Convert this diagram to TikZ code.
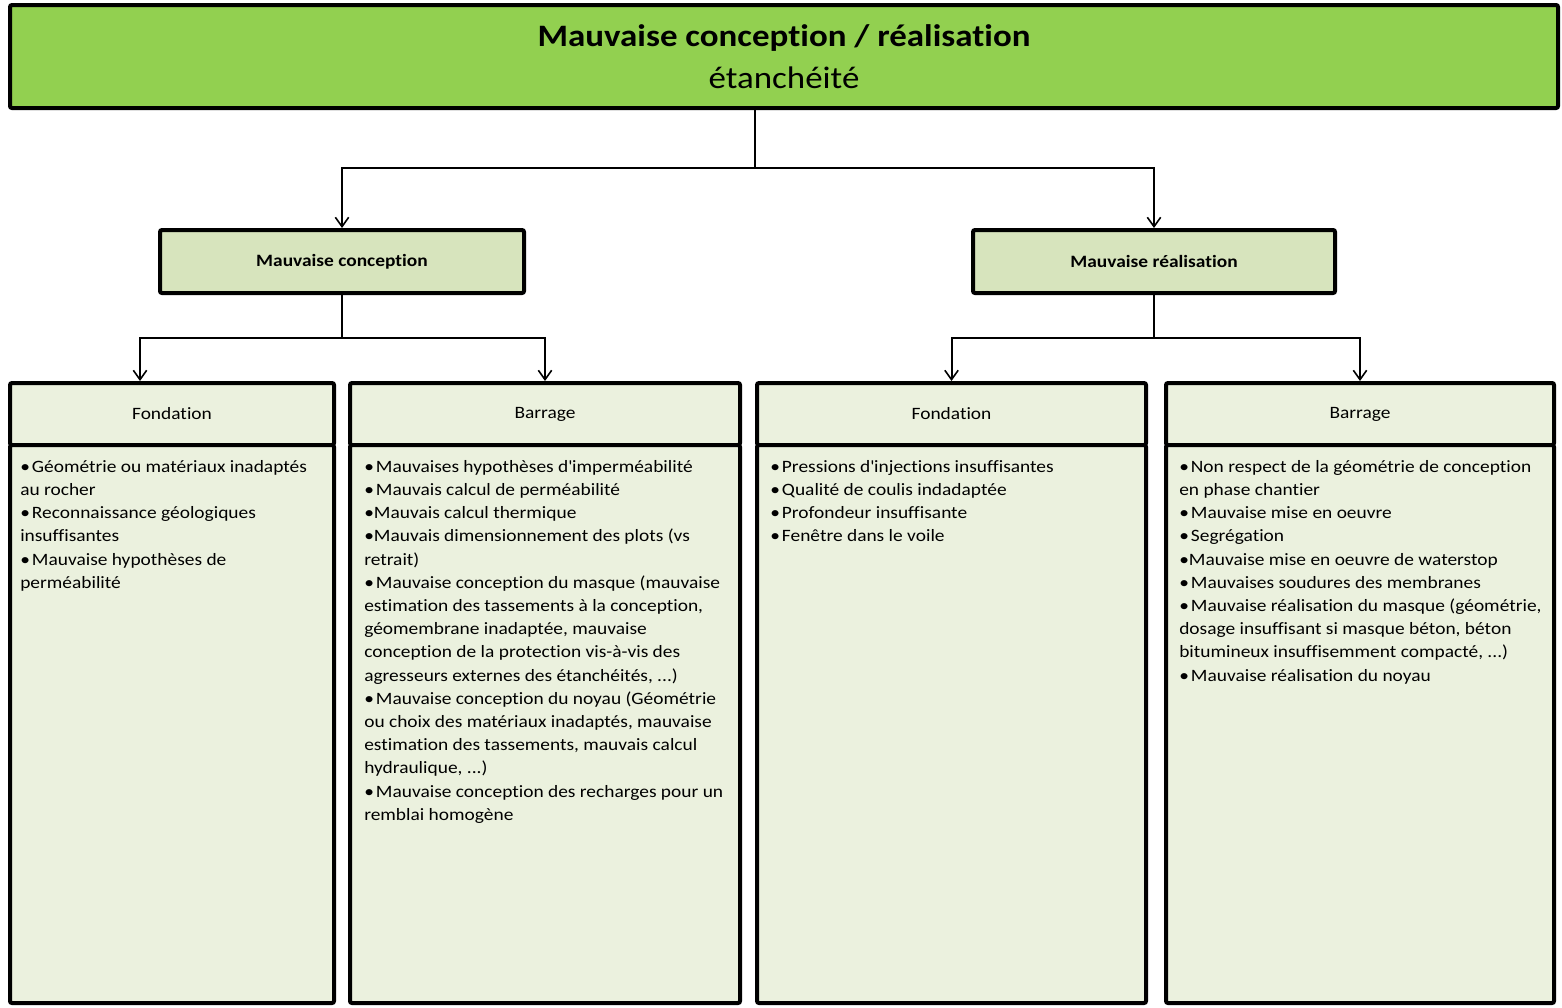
\documentclass[tikz,border=0pt]{standalone}
\usepackage{fontspec}
\setmainfont{Carlito}[FakeStretch=1.12,Ligatures={TeX,NoCommon}]
\usetikzlibrary{arrows.meta}
\definecolor{titregreen}{HTML}{92D050}
\definecolor{midgreen}{HTML}{D7E4BD}
\definecolor{palegreen}{HTML}{EBF1DE}
\newcommand{\puce}{•\kern1.5pt}

\begin{document}
\begin{tikzpicture}[x=0.75pt,y=-0.75pt,
  bigbox/.style={draw=black,line width=3pt,rounded corners=1.5pt,inner sep=0pt},
  titlebox/.style={bigbox,fill=titregreen,minimum width=1161pt,minimum height=77.25pt,
    align=center,font=\fontsize{23.4}{31.5}\selectfont},
  midbox/.style={bigbox,fill=midgreen,minimum height=47.25pt,font=\fontsize{13}{16}\selectfont\bfseries},
  headbox/.style={bigbox,fill=palegreen,minimum height=46.5pt,font=\fontsize{13}{16}\selectfont},
  bodybox/.style={bigbox,fill=palegreen,minimum height=418.5pt},
  itemtext/.style={anchor=north west,inner sep=0pt,align=left,font=\fontsize{13}{17.4}\selectfont},
  link/.style={line width=1.5pt,-{Straight Barb[length=7pt,width=10pt,line width=1.2pt]}}
]
\useasboundingbox (0,0) rectangle (1562,1007);

\path (784,56.5) node[titlebox] (titre) {{\bfseries Mauvaise conception / réalisation}\\étanchéité};

\path (342,261.5) node[midbox,minimum width=273pt] (conc) {Mauvaise conception};
\path (1154,261.5) node[midbox,minimum width=271.5pt] (real) {Mauvaise réalisation};

\path (172,414) node[headbox,minimum width=243pt] (fondA) {Fondation};
\path (545,414) node[headbox,minimum width=292.5pt] (barA) {Barrage};
\path (951.5,414) node[headbox,minimum width=291.75pt] (fondB) {Fondation};
\path (1360,414) node[headbox,minimum width=291pt] (barB) {Barrage};

\path (172,724) node[bodybox,minimum width=243pt] (fondAb) {};
\path (545,724) node[bodybox,minimum width=292.5pt] (barAb) {};
\path (951.5,724) node[bodybox,minimum width=291.75pt] (fondBb) {};
\path (1360,724) node[bodybox,minimum width=291pt] (barBb) {};

\path (20,455.8) node[itemtext] (fondAt) {\strut\puce Géométrie ou matériaux inadaptés\\
au rocher\\
\puce Reconnaissance géologiques\\
insuffisantes\\
\puce Mauvaise hypothèses de\\
perméabilité};

\path (364,455.8) node[itemtext] (barAt) {\strut\puce Mauvaises hypothèses d\textquotesingle imperméabilité\\
\puce Mauvais calcul de perméabilité\\
•Mauvais calcul thermique\\
•Mauvais dimensionnement des plots (vs\\
retrait)\\
\puce Mauvaise conception du masque (mauvaise\\
estimation des tassements à la conception,\\
géomembrane inadaptée, mauvaise\\
conception de la protection vis-à-vis des\\
agresseurs externes des étanchéités, ...)\\
\puce Mauvaise conception du noyau (Géométrie\\
ou choix des matériaux inadaptés, mauvaise\\
estimation des tassements, mauvais calcul\\
hydraulique, ...)\\
\puce Mauvaise conception des recharges pour un\\
remblai homogène};

\path (770,455.8) node[itemtext] (fondBt) {\strut\puce Pressions d\textquotesingle injections insuffisantes\\
\puce Qualité de coulis indadaptée\\
\puce Profondeur insuffisante\\
\puce Fenêtre dans le voile};

\path (1179,455.8) node[itemtext] (barBt) {\strut\puce Non respect de la géométrie de conception\\
en phase chantier\\
\puce Mauvaise mise en oeuvre\\
\puce Segrégation\\
•Mauvaise mise en oeuvre de waterstop\\
\puce Mauvaises soudures des membranes\\
\puce Mauvaise réalisation du masque (géométrie,\\
dosage insuffisant si masque béton, béton\\
bitumineux insuffisemment compacté, ...)\\
\puce Mauvaise réalisation du noyau};

\coordinate (j1) at (755,168);
\coordinate (j2) at (342,338);
\coordinate (j3) at (1154,338);

\draw[line width=1.5pt] (j1 |- titre.south) -- (j1);
\draw[link] (j1) -| (conc.north);
\draw[link] (j1) -| (real.north);

\draw[line width=1.5pt] (conc.south) -- (j2);
\draw[link] (j2) -| ([xshift=-24pt]fondA.north);
\draw[link] (j2) -| (barA.north);

\draw[line width=1.5pt] (real.south) -- (j3);
\draw[link] (j3) -| (fondB.north);
\draw[link] (j3) -| (barB.north);
\end{tikzpicture}
\end{document}
